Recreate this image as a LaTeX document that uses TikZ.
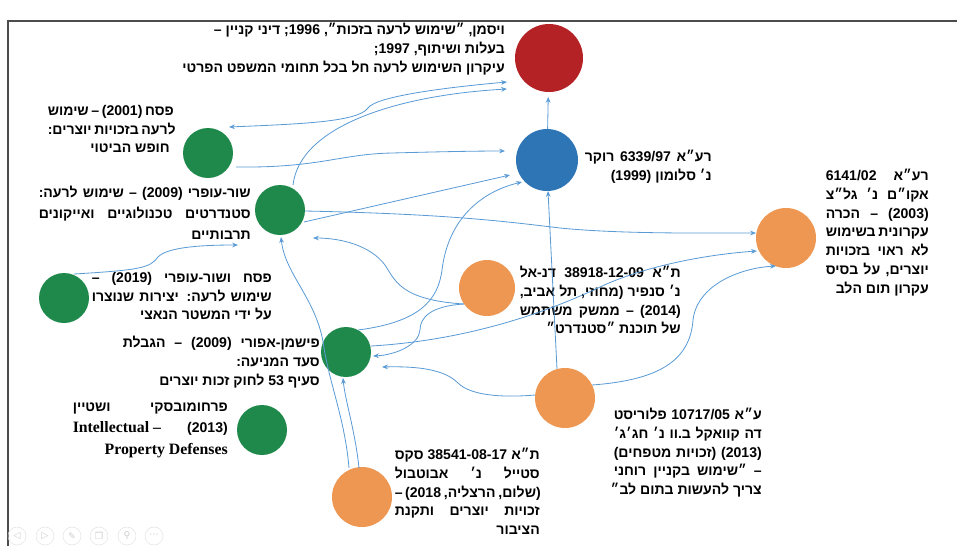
\documentclass[tikz,border=0pt]{standalone}
\usepackage{fontspec}
\newfontfamily\hebfont[Script=Hebrew]{Liberation Sans}
\newfontfamily\engfont{Liberation Serif}
\newfontfamily\symfont{DejaVu Sans}
\TeXXeTstate=1
\usetikzlibrary{arrows.meta,calc}

\definecolor{casered}{RGB}{180,34,38}
\definecolor{caseblue}{RGB}{46,117,182}
\definecolor{casegreen}{RGB}{31,137,75}
\definecolor{caseorange}{RGB}{237,151,82}
\definecolor{linkblue}{RGB}{91,155,213}

% left-to-right piece inside a right-to-left line
\newcommand\lt[1]{\beginL#1\endL}

\begin{document}
\begin{tikzpicture}[x=0.03cm,y=-0.03cm,>={Stealth[length=5pt,width=4pt]},
  court/.style={circle,inner sep=0pt,minimum size=#1},
  link/.style={draw=linkblue,line width=0.7pt,->},
  txt/.style={font=\hebfont\bfseries\fontsize{12}{16}\selectfont,align=right,inner sep=0pt,anchor=north east},
  ctrl/.style={circle,draw=gray!25,text=gray!40,minimum size=0.54cm,inner sep=0pt,font=\symfont\footnotesize}]
  \useasboundingbox (0,0) rectangle (957,546);
  \draw[gray!60!black,line width=1.2pt] (8,546) -- (8,21) -- (957,21);

  % cases
  \node[court=2.04cm,fill=casered] (weisman) at (549,58) {};
  \node[court=1.86cm,fill=caseblue] (rocker) at (547,160) {};
  \node[court=1.5cm,fill=casegreen] (pesach01) at (208,153) {};
  \node[court=1.5cm,fill=casegreen] (shur09) at (280,210) {};
  \node[court=1.5cm,fill=casegreen] (pesach19) at (64,298) {};
  \node[court=1.5cm,fill=casegreen] (fishman09) at (346,352) {};
  \node[court=1.5cm,fill=casegreen] (parch13) at (262,430) {};
  \node[court=1.68cm,fill=caseorange] (danel14) at (487,288) {};
  \node[court=1.8cm,fill=caseorange] (acum03) at (786,238) {};
  \node[court=1.8cm,fill=caseorange] (florist13) at (565,398) {};
  \node[court=1.8cm,fill=caseorange] (sax18) at (362,497) {};

  % labels
  \node[txt] (weismantxt) at (505,23) {\beginR ויסמן\lt{,} ״שימוש לרעה בזכות״\lt{,} \lt{1996}\lt{;} דיני קניין –\endR\\
    \beginR בעלות ושיתוף\lt{,} \lt{1997}\lt{;}\endR\\
    \beginR עיקרון השימוש לרעה חל בכל תחומי המשפט הפרטי\endR};
  \node[txt] (rockertxt) at (712,150) {\hbox to 3.81cm{\beginR רע״א \lt{6339/97} רוקר\endR}\\
    \beginR נ׳ סלומון \lt{(1999)}\endR};
  \node[txt] (pesach01txt) at (170,105) {\hbox to 3.66cm{\beginR פסח \lt{(2001)} – שימוש\endR}\\
    \hbox to 3.66cm{\beginR לרעה בזכויות יוצרים\lt{:}\endR}\\
    \beginR חופש הביטוי\endR};
  \node[txt,font=\hebfont\bfseries\fontsize{12}{18}\selectfont] (shur09txt) at (251,186) {\hbox to 6.36cm{\beginR שור-עופרי \lt{(2009)} – שימוש לרעה\lt{:}\endR}\\
    \hbox to 6.36cm{\beginR סטנדרטים טכנולוגיים ואייקונים\endR}\\
    \beginR תרבותיים\endR};
  \node[txt] (pesach19txt) at (272,272) {\hbox to 5.4cm{\beginR פסח ושור-עופרי \lt{(2019)} –\endR}\\
    \hbox to 5.4cm{\beginR שימוש לרעה\lt{:} יצירות שנוצרו\endR}\\
    \beginR על ידי המשטר הנאצי\endR};
  \node[txt] (fishman09txt) at (320,336) {\hbox to 5.91cm{\beginR פישמן-אפורי \lt{(2009)} – הגבלת\endR}\\
    \beginR סעד המניעה\lt{:}\endR\\
    \beginR סעיף \lt{53} לחוק זכות יוצרים\endR};
  \node[txt,font=\hebfont\bfseries\fontsize{12}{18}\selectfont] (parch13txt) at (228,403) {\hbox to 4.65cm{\beginR פרחומובסקי ושטיין\endR}\\
    \hbox to 4.65cm{{\engfont\bfseries\fontsize{13.5}{18}\selectfont Intellectual –}\hfill(2013)}\\
    {\engfont\bfseries\fontsize{13.5}{18}\selectfont Property Defenses}};
  \node[txt] (danel14txt) at (681,266) {\hbox to 4.83cm{\beginR ת״א \lt{38918-12-09} דנ-אל\endR}\\
    \hbox to 4.83cm{\beginR נ׳ סנפיר \lt{(}מחוזי\lt{,} תל אביב\lt{,}\endR}\\
    \hbox to 4.83cm{\beginR\lt{(2014)} – ממשק משתמש\endR}\\
    \beginR של תוכנת ״סטנדרט״\endR};
  \node[txt] (acum03txt) at (929,169) {\hbox to 3.09cm{\beginR רע״א \lt{6141/02}\endR}\\
    \hbox to 3.09cm{\beginR אקו״ם נ׳ גל״צ\endR}\\
    \hbox to 3.09cm{\beginR\lt{(2003)} – הכרה\endR}\\
    \hbox to 3.09cm{\beginR עקרונית בשימוש\endR}\\
    \hbox to 3.09cm{\beginR לא ראוי בזכויות\endR}\\
    \hbox to 3.09cm{\beginR יוצרים\lt{,} על בסיס\endR}\\
    \beginR עקרון תום הלב\endR};
  \node[txt] (florist13txt) at (762,408) {\hbox to 4.44cm{\beginR ע״א \lt{10717/05} פלוריסט\endR}\\
    \hbox to 4.44cm{\beginR דה קוואקל ב.וו נ׳ חג׳ג׳\endR}\\
    \hbox to 4.44cm{\beginR\lt{(2013)} \lt{(}זכויות מטפחים\lt{)}\endR}\\
    \hbox to 4.44cm{\beginR – ״שימוש בקניין רוחני\endR}\\
    \beginR צריך להעשות בתום לב״\endR};
  \node[txt] (sax18txt) at (540,448) {\hbox to 4.35cm{\beginR ת״א \lt{38541-08-17} סקס\endR}\\
    \hbox to 4.35cm{\beginR סטייל נ׳ אבוטבול\endR}\\
    \hbox to 4.35cm{\beginR\lt{(}שלום\lt{,} הרצליה\lt{,} \lt{2018}\lt{)} –\endR}\\
    \hbox to 4.35cm{\beginR זכויות יוצרים ותקנת\endR}\\
    \beginR הציבור\endR};

  % links
  \draw[link,<->] ($(pesach01)+(21,-26)$) .. controls (300,124) and (358,122) .. (368,108)
    .. controls (376,96) and (450,87) .. ($(weisman)+(-42,24)$);
  \draw[link] ($(shur09)+(13,-25)$) .. controls (300,125) and (400,95) .. ($(weisman)+(-42,31)$);
  \draw[link] ($(pesach01)+(28,14)$) .. controls (320,168) and (340,154) .. (392,153)
    .. controls (430,152) and (470,151) .. ($(rocker)+(-42,-9)$);
  \draw[link,shorten >=4pt] (rocker) -- (weisman);
  \draw[link] ($(shur09)+(24,12)$) -- ($(rocker)+(-37,15)$);
  \draw[link] ($(shur09)+(25,1)$) .. controls (450,214) and (510,222) .. (560,228)
    .. controls (620,234) and (700,233) .. ($(acum03)+(-30,-5)$);
  \draw[link] ($(pesach19)+(10,-24)$) .. controls (140,270) and (150,268) .. (158,257)
    .. controls (168,246) and (210,245) .. ($(shur09)+(-42,35)$);
  \draw[link] ($(danel14)+(-23,16)$) .. controls (400,300) and (395,280) .. (385,265)
    .. controls (370,245) and (340,238) .. ($(shur09)+(33,28)$);
  \draw[link] ($(sax18)+(-13,-29)$) .. controls (345,420) and (330,385) .. (324,348)
    .. controls (318,300) and (285,275) .. ($(shur09)+(1,27)$);
  \draw[link] ($(sax18)+(-3,-29)$) .. controls (355,430) and (345,400) .. ($(fishman09)+(-3,26)$);
  \draw[link] ($(fishman09)+(12,-22)$) .. controls (420,322) and (438,300) .. (442,270)
    .. controls (448,220) and (480,192) .. ($(rocker)+(-25,22)$);
  \draw[link] ($(danel14)+(-23,16)$) .. controls (430,306) and (420,318) .. (420,330)
    .. controls (419,345) and (395,355) .. ($(fishman09)+(27,4)$);
  \draw[link] ($(fishman09)+(25,-6)$) .. controls (440,342) and (520,325) .. (600,287)
    .. controls (640,268) and (700,255) .. ($(acum03)+(-29,13)$);
  \draw[link] ($(florist13)+(-30,-3)$) .. controls (500,398) and (470,395) .. (458,383)
    .. controls (445,370) and (420,366) .. ($(fishman09)+(36,15)$);
  \draw[link] ($(florist13)+(27,-13)$) .. controls (660,380) and (690,360) .. (693,320)
    .. controls (697,285) and (740,268) .. ($(acum03)+(-10,28)$);
  \draw[link] ($(florist13)+(-8,-29)$) -- ($(rocker)+(1,31)$);

  % slide controls
  \foreach \x/\g in {17/◁,45/▷,72/✎,99/❐,127/⚲,154/⋯}
    \node[ctrl] (ctrl\x) at (\x,536) {\g};
\end{tikzpicture}
\end{document}
